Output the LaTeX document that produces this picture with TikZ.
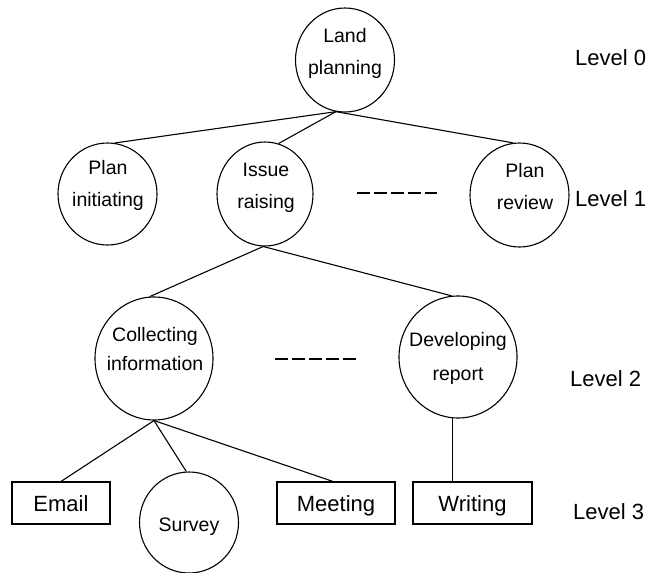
\documentclass[tikz,border=0pt]{standalone}
\usepackage{fontspec}
\setmainfont{Liberation Sans}
\usetikzlibrary{shapes.geometric}
\begin{document}
\begin{tikzpicture}[x=1pt,y=-1pt,
  circ/.style={ellipse,draw,line width=1.1pt,inner sep=0pt},
  ctext/.style={align=center,inner sep=0pt,font=\fontsize{19.5}{32}\selectfont},
  boxn/.style={draw,line width=1.1pt,minimum height=42pt,inner sep=0pt,text height=16pt,text depth=0pt,font=\fontsize{22}{26}\selectfont},
  lvl/.style={anchor=west,inner sep=0pt,text height=16pt,text depth=0pt,font=\fontsize{22}{26}\selectfont},
  conn/.style={line width=1.1pt},
  dashline/.style={line width=2.6pt,dash pattern=on 12.5pt off 4.5pt}]
\useasboundingbox (0,0) rectangle (659,573);
% circles
\node[circ,minimum width=99pt,minimum height=104pt] (lp) at (345,60) {};
\node[ctext] (lpt) at (345,53) {Land\\planning};
\node[circ,minimum width=99pt,minimum height=102pt] (pi) at (107.5,194) {};
\node[ctext] (pit) at (108,185) {Plan\\initiating};
\node[circ,minimum width=96pt,minimum height=104pt] (ir) at (265,194) {};
\node[ctext] (irt) at (266,188) {Issue\\raising};
\node[circ,minimum width=99pt,minimum height=104pt] (pr) at (519.5,195) {};
\node[ctext] (prt) at (525,187) {Plan\\review};
\node[circ,minimum width=118pt,minimum height=123pt] (ci) at (154,358.5) {};
\node[ctext,font=\fontsize{19.5}{29}\selectfont] (cit) at (155,349.5) {Collecting\\information};
\node[circ,minimum width=118pt,minimum height=122pt] (dr) at (458,357) {};
\node[ctext,font=\fontsize{19.5}{34}\selectfont] (drt) at (458,358) {Developing\\report};
\node[circ,minimum width=99pt,minimum height=101pt] (sv) at (189,522.5) {};
\node[ctext] (svt) at (189,526.5) {Survey};
% boxes
\node[boxn,minimum width=98pt] (em) at (61,503) {Email};
\node[boxn,minimum width=118pt] (me) at (336,503) {Meeting};
\node[boxn,minimum width=119pt] (wr) at (472.5,503) {Writing};
% levels
\node[lvl] (l0) at (575,57.5) {Level 0};
\node[lvl] (l1) at (575,198) {Level 1};
\node[lvl] (l2) at (570,378) {Level 2};
\node[lvl] (l3) at (573,511) {Level 3};
% connectors
\draw[conn] (lp.-100) -- (pi.82);
\draw[conn] (lp.-100) -- (ir.75);
\draw[conn] (lp.-100) -- (pr.97);
\draw[conn] (ir.-92) -- (ci.94);
\draw[conn] (ir.-92) -- (dr.96);
\draw[conn] (ci.-90) -- (em.north);
\draw[conn] (ci.-90) -- (sv.93);
\draw[conn] (ci.-90) -- ([xshift=-3pt]me.north);
\draw[conn] (dr.-95) -- (dr.-95 |- wr.north);
% ellipsis dashes
\coordinate (d1a) at (357,193);
\coordinate (d1b) at (437,193);
\draw[dashline] (d1a) -- (d1b);
\coordinate (d2a) at (275,359);
\coordinate (d2b) at (357,359);
\draw[dashline] (d2a) -- (d2b);
\end{tikzpicture}
\end{document}
